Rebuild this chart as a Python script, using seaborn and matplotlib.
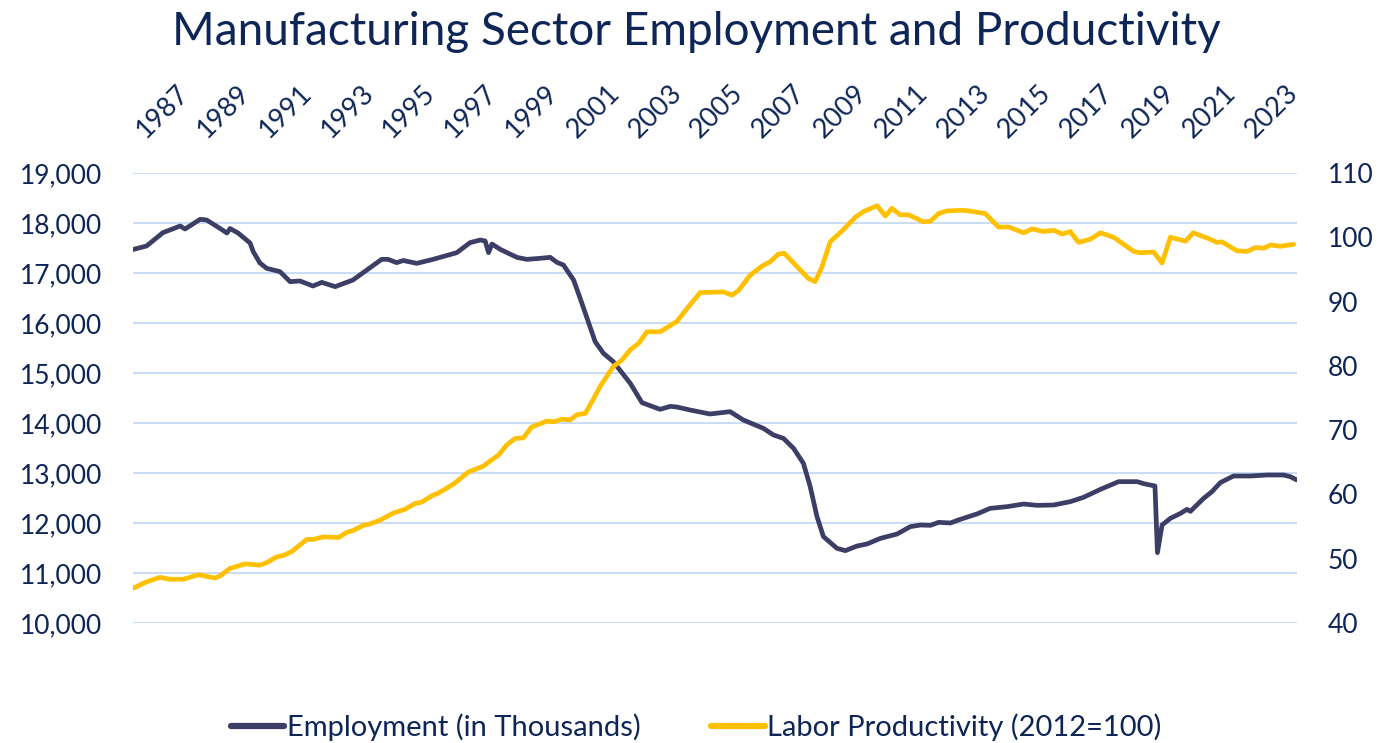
import matplotlib
matplotlib.use("Agg")
import matplotlib.pyplot as plt
import matplotlib.transforms as mtransforms
import seaborn as sns

# ---------------- data ----------------
emp_year = [1987.00, 1987.44, 1987.97, 1988.53, 1988.69, 1989.18, 1989.39, 1989.82,
            1990.05, 1990.15, 1990.41, 1990.80, 1990.90, 1991.12, 1991.34, 1991.77,
            1992.10, 1992.42, 1992.84, 1993.13, 1993.56, 1994.14, 1994.59, 1995.07,
            1995.28, 1995.56, 1995.77, 1996.21, 1996.74, 1997.51, 1997.94, 1998.27,
            1998.43, 1998.54, 1998.65, 1998.92, 1999.46, 1999.78, 2000.21, 2000.54,
            2000.76, 2000.97, 2001.30, 2001.51, 2002.00, 2002.27, 2002.59, 2003.14,
            2003.52, 2004.11, 2004.44, 2004.65, 2005.08, 2005.73, 2006.38, 2006.81,
            2007.46, 2007.79, 2008.11, 2008.44, 2008.76, 2008.98, 2009.20, 2009.41,
            2009.85, 2010.12, 2010.50, 2010.82, 2011.26, 2011.80, 2012.23, 2012.56,
            2012.88, 2013.15, 2013.53, 2013.85, 2014.39, 2014.82, 2015.37, 2015.91,
            2016.34, 2016.88, 2017.42, 2017.85, 2018.40, 2018.99, 2019.59, 2019.80,
            2020.17, 2020.25, 2020.40, 2020.67, 2021.00, 2021.21, 2021.32, 2021.75,
            2022.02, 2022.29, 2022.72, 2023.27, 2023.81, 2024.35, 2024.56, 2024.78]
emp_val = [17470, 17540, 17806, 17940, 17880, 18074, 18060, 17893,
           17800, 17890, 17800, 17600, 17430, 17200, 17093, 17027,
           16827, 16840, 16740, 16813, 16727, 16860, 17060, 17273,
           17273, 17207, 17250, 17193, 17273, 17407, 17607, 17660,
           17640, 17407, 17580, 17473, 17313, 17273, 17293, 17313,
           17213, 17160, 16860, 16500, 15627, 15393, 15227, 14793,
           14407, 14273, 14333, 14320, 14260, 14180, 14227, 14060,
           13893, 13760, 13693, 13493, 13193, 12727, 12127, 11727,
           11493, 11447, 11540, 11580, 11693, 11780, 11927, 11960,
           11953, 12013, 12000, 12073, 12180, 12293, 12327, 12380,
           12353, 12360, 12427, 12513, 12673, 12827, 12827, 12787,
           12740, 11407, 11960, 12093, 12193, 12273, 12233, 12493,
           12627, 12807, 12940, 12940, 12960, 12960, 12927, 12860]

prod_year = [1987.00, 1987.44, 1987.88, 1988.20, 1988.63, 1989.12, 1989.66, 1989.82,
             1990.15, 1990.37, 1990.64, 1991.12, 1991.34, 1991.67, 1991.88, 1992.15,
             1992.64, 1992.85, 1993.18, 1993.67, 1993.94, 1994.15, 1994.48, 1994.69,
             1995.02, 1995.45, 1995.83, 1996.16, 1996.37, 1996.70, 1996.91, 1997.40,
             1997.89, 1998.37, 1998.59, 1998.86, 1999.13, 1999.40, 1999.67, 1999.94,
             2000.11, 2000.43, 2000.65, 2000.92, 2001.19, 2001.41, 2001.68, 2001.94,
             2002.16, 2002.59, 2002.87, 2003.14, 2003.41, 2003.68, 2004.11, 2004.65,
             2005.03, 2005.41, 2006.17, 2006.44, 2006.65, 2007.03, 2007.41, 2007.68,
             2007.95, 2008.14, 2008.44, 2008.66, 2008.92, 2009.14, 2009.36, 2009.63,
             2010.06, 2010.44, 2010.71, 2011.15, 2011.42, 2011.63, 2011.90, 2012.17,
             2012.66, 2012.88, 2013.15, 2013.42, 2013.91, 2014.13, 2014.66, 2015.09,
             2015.42, 2015.91, 2016.18, 2016.56, 2016.88, 2017.16, 2017.42, 2017.69,
             2018.07, 2018.40, 2018.83, 2019.48, 2019.69, 2020.13, 2020.40, 2020.67,
             2021.16, 2021.41, 2021.91, 2022.18, 2022.34, 2022.83, 2023.16, 2023.43,
             2023.71, 2023.92, 2024.24, 2024.67]
prod_val = [45.4, 46.4, 47.1, 46.8, 46.8, 47.5, 47.0, 47.3,
            48.5, 48.8, 49.2, 49.0, 49.4, 50.3, 50.5, 51.1,
            53.0, 53.0, 53.4, 53.3, 54.1, 54.4, 55.2, 55.4,
            56.0, 57.1, 57.7, 58.6, 58.8, 59.8, 60.2, 61.6,
            63.5, 64.4, 65.2, 66.1, 67.7, 68.7, 68.8, 70.5,
            70.8, 71.4, 71.3, 71.7, 71.6, 72.4, 72.6, 74.8,
            76.8, 79.9, 80.9, 82.5, 83.5, 85.3, 85.3, 86.9,
            89.2, 91.4, 91.5, 91.0, 91.7, 94.1, 95.5, 96.2,
            97.4, 97.5, 96.0, 94.9, 93.6, 93.1, 95.4, 99.3,
            101.2, 103.1, 104.0, 104.9, 103.3, 104.5, 103.5, 103.5,
            102.4, 102.5, 103.7, 104.1, 104.2, 104.1, 103.7, 101.6,
            101.6, 100.7, 101.3, 100.9, 101.1, 100.5, 100.9, 99.2,
            99.7, 100.7, 100.0, 97.8, 97.6, 97.7, 96.0, 100.0,
            99.4, 100.7, 99.8, 99.2, 99.3, 97.9, 97.8, 98.4,
            98.3, 98.8, 98.6, 98.9]

year_ticks = list(range(1987, 2024, 2))
left_ticks = [10000, 11000, 12000, 13000, 14000, 15000, 16000, 17000, 18000, 19000]
right_ticks = [40, 50, 60, 70, 80, 90, 100, 110]

title = "Manufacturing Sector Employment and Productivity"
emp_label = "Employment (in Thousands)"
prod_label = "Labor Productivity (2012=100)"

# ---------------- style ----------------
TXT = "#0E2557"
EMP_C = "#3C3E66"
PROD_C = "#FFC000"
GRID_C = "#C6D9F5"
FONT = ["Lato", "DejaVu Sans"]

sns.set_theme(style="white")
plt.rcParams["font.family"] = FONT

fig = plt.figure(figsize=(13.78, 7.43), dpi=100)
ax = fig.add_axes([133 / 1378, 1 - 623 / 743, (1297 - 133) / 1378, (623 - 173) / 743])
ax2 = ax.twinx()

sns.lineplot(x=emp_year, y=emp_val, ax=ax, color=EMP_C, linewidth=3.4,
             label=emp_label, legend=False)
sns.lineplot(x=prod_year, y=prod_val, ax=ax2, color=PROD_C, linewidth=3.4,
             label=prod_label, legend=False)

ax.set_xlim(1987.0, 2024.78)
ax.set_ylim(10000, 19000)
ax2.set_ylim(40, 110)

ax.set_yticks(left_ticks)
ax.set_yticklabels([f"{v:,}" for v in left_ticks])
ax2.set_yticks(right_ticks)
ax2.set_yticklabels([str(v) for v in right_ticks])

ax.set_xticks(year_ticks)
ax.xaxis.tick_top()
ax.set_xticklabels([str(y) for y in year_ticks], rotation=45, ha="left",
                   va="bottom", rotation_mode="anchor")
ax.tick_params(axis="x", top=True, bottom=False, labeltop=True, labelbottom=False,
               length=0, pad=22, labelsize=19.5, labelcolor=TXT)
shift = mtransforms.ScaledTranslation(16 / 100, 0, fig.dpi_scale_trans)
for lbl in ax.get_xticklabels():
    lbl.set_transform(lbl.get_transform() + shift)
ax.tick_params(axis="y", length=0, pad=22, labelsize=19, labelcolor=TXT)
ax2.tick_params(axis="y", length=0, pad=22, labelsize=19, labelcolor=TXT)

ax.grid(True, axis="y", color=GRID_C, linewidth=1.3)
ax.grid(False, axis="x")
ax2.grid(False)
ax.set_axisbelow(True)
for a in (ax, ax2):
    for s in a.spines.values():
        s.set_visible(False)
    a.set_xlabel("")
    a.set_ylabel("")

fig.text(0.5054, 1 - 45 / 743, title, ha="center", va="baseline",
         fontsize=33, color=TXT)

h1, l1 = ax.get_legend_handles_labels()
h2, l2 = ax2.get_legend_handles_labels()
leg = fig.legend(h1 + h2, l1 + l2, loc="center", bbox_to_anchor=(0.505, 1 - 727 / 743),
                 ncol=2, frameon=False, fontsize=21, handlelength=1.85,
                 handletextpad=0.08, columnspacing=2.4)
for t in leg.get_texts():
    t.set_color(TXT)
for line in leg.get_lines():
    line.set_linewidth(4.5)

fig.savefig("out.png", dpi=100)
